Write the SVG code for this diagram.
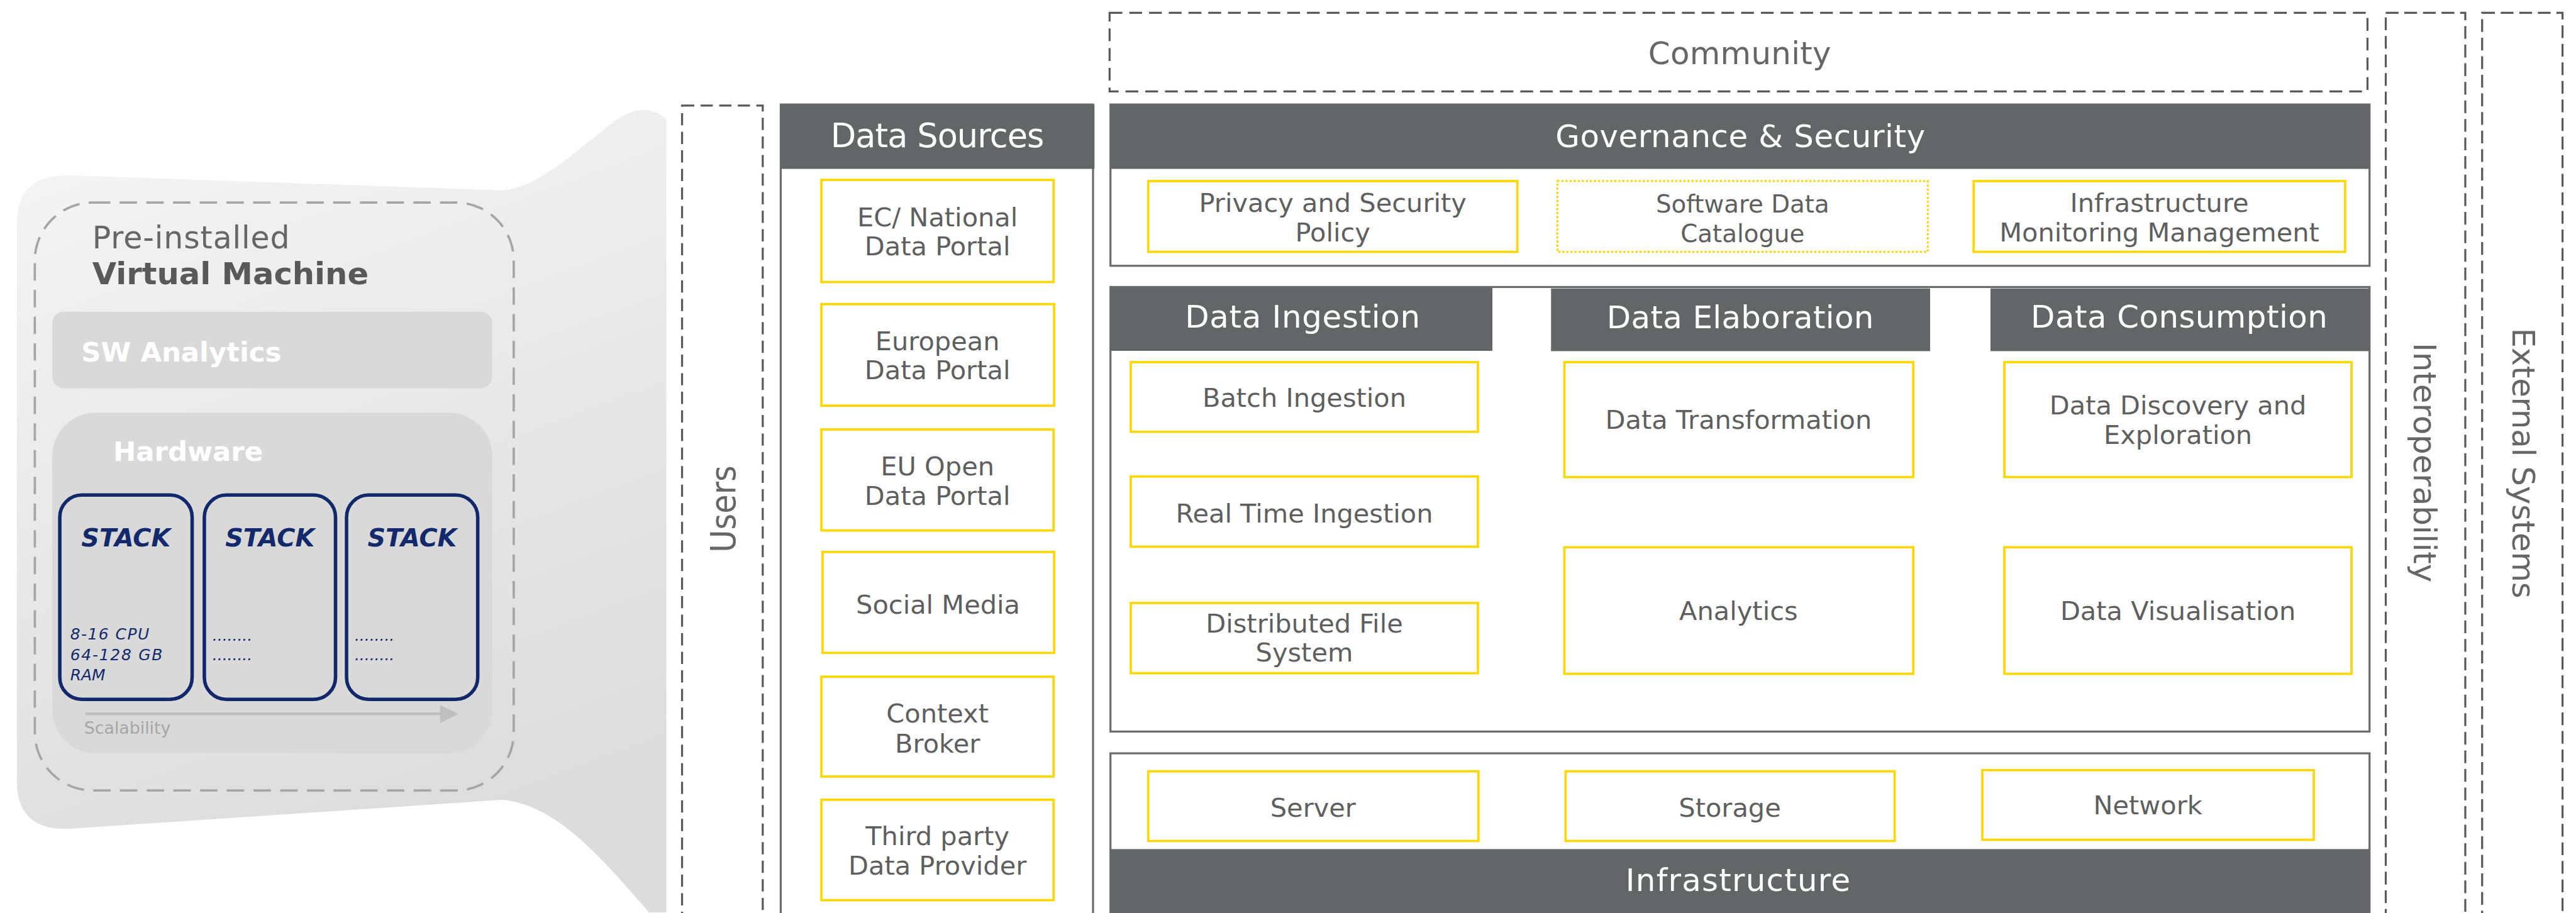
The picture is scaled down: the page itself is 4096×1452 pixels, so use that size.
<svg xmlns="http://www.w3.org/2000/svg" width="4096" height="1452" viewBox="0 0 4096 1452">
<style>
text{font-family:'DejaVu Sans',Verdana,sans-serif;text-anchor:middle;fill:#5f5f5f}
.hd{fill:#646567}
.ht{fill:#fff;font-size:54px}
.lb{font-size:45px}
.yb{fill:#fff;stroke:#FFD700;stroke-width:4}
.pn{fill:#fff;stroke:#6b6b6b;stroke-width:3.5}
.dsh{fill:none;stroke:#5a5a5a;stroke-width:3.5;stroke-dasharray:21 11}
.stk{fill:#d9d9d9;stroke:#12286b;stroke-width:6}
.st{font-size:43px;font-weight:bold;font-style:italic;fill:#13296b}
.sp{font-size:27px;font-style:italic;fill:#13296b;text-anchor:start}
.rot{font-size:54px;fill:#666}
</style>
<defs>
<linearGradient id="blobg" x1="0" y1="0" x2="0.3" y2="1">
<stop offset="0" stop-color="#f6f6f6"/>
<stop offset="1" stop-color="#dcdcdc"/>
</linearGradient>
</defs>
<rect x="0" y="0" width="4096" height="1452" fill="#fff"/>
<g transform="scale(0.923)">

<g id="vm">
<path d="M29,385 Q29,300 120,302 L865,328 C930,324 1000,252 1060,208 Q1110,172 1148,205 L1148,1572 L1118,1572 C1040,1482 960,1386 865,1378 L120,1428 Q29,1432 29,1345 Z" fill="url(#blobg)"/>
<rect x="60" y="349" width="825" height="1013" rx="100" fill="none" stroke="#a6a6a6" stroke-width="4" stroke-dasharray="30 16"/>
<text x="159" y="428" style="text-anchor:start;font-size:53px;fill:#666" textLength="340">Pre-installed</text>
<text x="159" y="490" style="text-anchor:start;font-size:52px;font-weight:bold;fill:#595959" textLength="476" lengthAdjust="spacingAndGlyphs">Virtual Machine</text>
<rect x="90" y="537" width="758" height="132" rx="20" fill="#d9d9d9"/>
<text x="140" y="623" style="text-anchor:start;font-size:47px;font-weight:bold;fill:#fff">SW Analytics</text>
<rect x="90" y="711" width="758" height="587" rx="75" fill="#d9d9d9"/>
<text x="195" y="794" style="text-anchor:start;font-size:47px;font-weight:bold;fill:#fff">Hardware</text>
<g id="stack1">
<rect class="stk" x="103" y="853" width="228" height="352" rx="38"/>
<text class="st" x="217" y="942">STACK</text>
<text class="sp" x="121" y="1102" textLength="136">8-16 CPU</text>
<text class="sp" x="121" y="1138" textLength="159">64-128 GB</text>
<text class="sp" x="121" y="1172">RAM</text>
</g>
<g id="stack2">
<rect class="stk" x="352" y="853" width="226" height="352" rx="38"/>
<text class="st" x="465" y="942">STACK</text>
<text class="sp" x="366" y="1104">........</text>
<text class="sp" x="366" y="1138">........</text>
</g>
<g id="stack3">
<rect class="stk" x="597" y="853" width="226" height="352" rx="38"/>
<text class="st" x="710" y="942">STACK</text>
<text class="sp" x="611" y="1104">........</text>
<text class="sp" x="611" y="1138">........</text>
</g>
<text x="145" y="1264" style="text-anchor:start;font-size:29px;fill:#a6a6a6">Scalability</text>
</g>

<g id="users">
<rect class="dsh" x="1175" y="182" width="139" height="1430"/>
<text transform="translate(1267,877) rotate(-90)" x="0" y="0" style="font-size:60px;fill:#666;font-family:'DejaVu Sans Condensed','DejaVu Sans',sans-serif;font-stretch:condensed" textLength="150" lengthAdjust="spacingAndGlyphs">Users</text>
</g>

<g id="data-sources">
<rect class="pn" x="1345" y="180" width="538" height="1430"/>
<rect class="hd" x="1343.5" y="180" width="542" height="111"/>
<text class="ht" x="1615" y="254" style="font-size:57px" textLength="368">Data Sources</text>
<rect class="yb" x="1415" y="310" width="400" height="176"/>
<text class="lb" x="1615" y="390">EC/ National</text>
<text class="lb" x="1615" y="440">Data Portal</text>
<rect class="yb" x="1415" y="524" width="401" height="175"/>
<text class="lb" x="1615" y="603">European</text>
<text class="lb" x="1615" y="653">Data Portal</text>
<rect class="yb" x="1415" y="740" width="400" height="174"/>
<text class="lb" x="1615" y="819">EU Open</text>
<text class="lb" x="1615" y="870">Data Portal</text>
<rect class="yb" x="1417" y="951" width="399" height="174"/>
<text class="lb" x="1616" y="1057">Social Media</text>
<rect class="yb" x="1415" y="1166" width="400" height="172"/>
<text class="lb" x="1615" y="1245">Context</text>
<text class="lb" x="1615" y="1297">Broker</text>
<rect class="yb" x="1415" y="1378" width="400" height="173"/>
<text class="lb" x="1615" y="1456">Third party</text>
<text class="lb" x="1615" y="1507">Data Provider</text>
</g>

<g id="community">
<rect class="dsh" x="1911.5" y="22" width="2167" height="135.5" style="stroke-dasharray:22 12"/>
<text x="2997" y="111" style="font-size:54px;fill:#666" textLength="315">Community</text>
</g>

<g id="governance">
<rect class="pn" x="1913" y="180" width="2169" height="278"/>
<rect class="hd" x="1913" y="180" width="2169" height="111"/>
<text class="ht" x="2998" y="254" textLength="637">Governance &amp; Security</text>
<rect class="yb" x="1978" y="312" width="636" height="122"/>
<text class="lb" x="2296" y="365">Privacy and Security</text>
<text class="lb" x="2296" y="416">Policy</text>
<rect x="2683" y="312" width="638" height="122" fill="#fff" stroke="#FFD200" stroke-width="3.5" stroke-dasharray="3.5 3.5"/>
<text x="3002" y="366" style="font-size:42px">Software Data</text>
<text x="3002" y="417" style="font-size:42px">Catalogue</text>
<rect class="yb" x="3400" y="312" width="640" height="122"/>
<text class="lb" x="3720" y="365">Infrastructure</text>
<text class="lb" x="3720" y="416">Monitoring Management</text>
</g>

<g id="processing">
<rect class="pn" x="1913" y="494.5" width="2169" height="766"/>
<rect class="hd" x="1913" y="494.5" width="658" height="110"/>
<rect class="hd" x="2672" y="497" width="653" height="108"/>
<rect class="hd" x="3429" y="497" width="653" height="108"/>
<text class="ht" x="2244" y="565" textLength="405">Data Ingestion</text>
<text class="ht" x="2998" y="566" textLength="460">Data Elaboration</text>
<text class="ht" x="3754" y="565" textLength="511">Data Consumption</text>
<g id="batch-ingestion"><rect class="yb" x="1948" y="624" width="598" height="120"/>
<text class="lb" x="2247" y="701">Batch Ingestion</text></g>
<g id="real-time-ingestion"><rect class="yb" x="1948" y="821" width="598" height="121"/>
<text class="lb" x="2247" y="900">Real Time Ingestion</text></g>
<g id="distributed-fs"><rect class="yb" x="1948" y="1039" width="598" height="121"/>
<text class="lb" x="2247" y="1090">Distributed File</text>
<text class="lb" x="2247" y="1140">System</text></g>
<g id="data-transformation"><rect class="yb" x="2695" y="624" width="601" height="198"/>
<text class="lb" x="2995" y="739">Data Transformation</text></g>
<g id="analytics"><rect class="yb" x="2695" y="943" width="601" height="218"/>
<text class="lb" x="2995" y="1068">Analytics</text></g>
<g id="data-discovery"><rect class="yb" x="3453" y="624" width="598" height="198"/>
<text class="lb" x="3752" y="714">Data Discovery and</text>
<text class="lb" x="3752" y="765">Exploration</text></g>
<g id="data-visualisation"><rect class="yb" x="3453" y="943" width="598" height="218"/>
<text class="lb" x="3752" y="1068">Data Visualisation</text></g>
</g>

<g id="infrastructure">
<rect class="pn" x="1913" y="1298" width="2169" height="320"/>
<rect class="hd" x="1913" y="1463" width="2169" height="120"/>
<text class="ht" x="2994" y="1535" textLength="387">Infrastructure</text>
<g id="server"><rect class="yb" x="1978" y="1329" width="569" height="120"/>
<text class="lb" x="2262" y="1407">Server</text></g>
<g id="storage"><rect class="yb" x="2697" y="1329" width="567" height="120"/>
<text class="lb" x="2980" y="1407">Storage</text></g>
<g id="network"><rect class="yb" x="3415" y="1327" width="571" height="120"/>
<text class="lb" x="3700" y="1403">Network</text></g>
</g>

<g id="interoperability">
<rect class="dsh" x="4110" y="22" width="137" height="1590" style="stroke-dasharray:22 10"/>
<text class="rot" transform="translate(4158,797) rotate(90)" textLength="413">Interoperability</text>
</g>
<g id="external-systems">
<rect class="dsh" x="4276" y="22" width="138.5" height="1590" style="stroke-dasharray:22 10"/>
<text class="rot" transform="translate(4328,798) rotate(90)" textLength="466">External Systems</text>
</g>

<g id="connectors">
<line x1="147" y1="1230" x2="762" y2="1230" stroke="#bfbfbf" stroke-width="5"/>
<polygon points="758,1215 790,1230 758,1246" fill="#bfbfbf"/>
</g>
</g>
</svg>
